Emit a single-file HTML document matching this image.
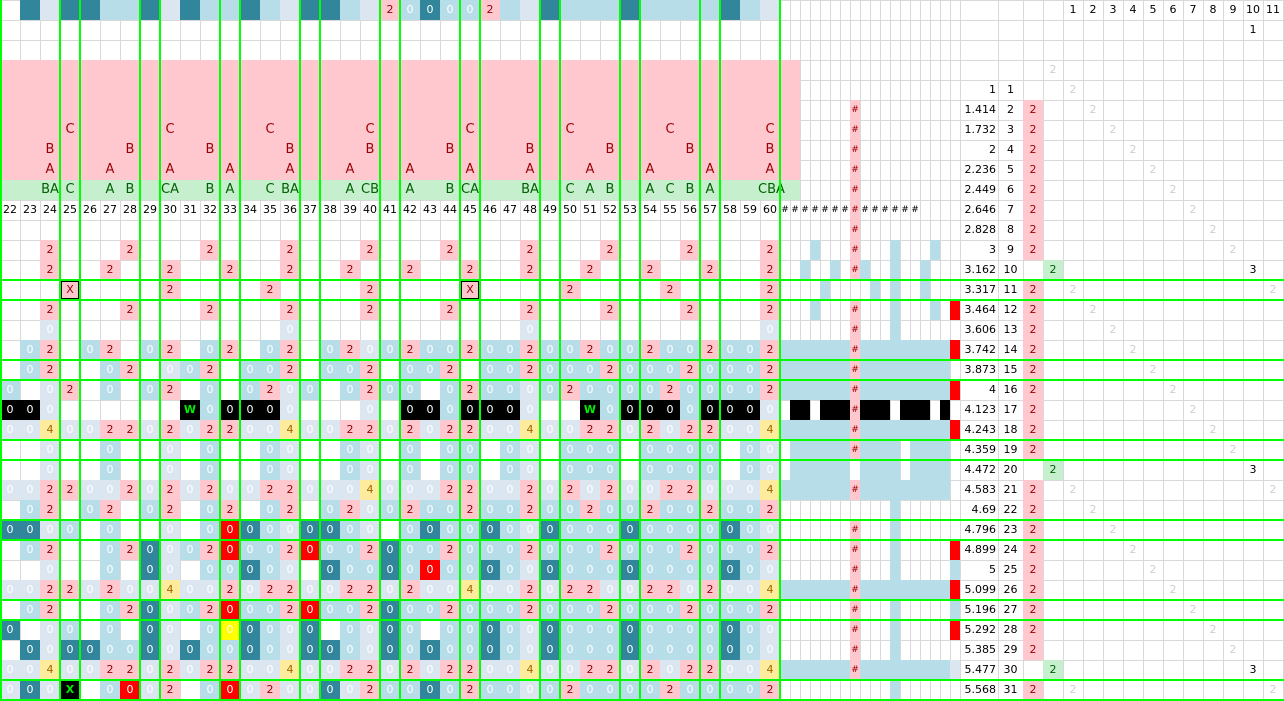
<!DOCTYPE html>
<html><head><meta charset="utf-8"><style>
body{margin:0;width:1284px;height:701px;overflow:hidden;position:relative;background:#fff;font-family:"DejaVu Sans","Liberation Sans",sans-serif;font-size:11px;color:#000}
.grid{position:absolute;left:0;display:grid;grid-template-columns:repeat(39,20px);grid-auto-rows:20px}
.grid i{font-style:normal;text-align:center;line-height:20px;display:block;height:20px}
.p{background:#ffc7ce;color:#9c0006}
.o{background:#b7dee8;color:#fff}
.g{background:#dce6f1;color:#fff}
.t{background:#31869b;color:#fff}
.y{background:#ffeb9c;color:#9c6500}
.k{background:#000;color:#fff}
.W{background:#000;color:#00ee00;font-weight:bold}
.r{background:#f00;color:#fff}
.Y{background:#ff0;color:#fff}
.x{background:#ffc7ce;color:#9c0006;box-shadow:inset 0 0 0 2px #000}
.X{background:#000;color:#0e0;font-weight:bold}
.a{position:absolute;height:20px;line-height:20px;text-align:center;width:20px}
.L{font-size:13px;color:#9c0006}
.Gl{font-size:13px;color:#006100}
.b{position:absolute;height:20px;background:#b7dee8}
.bk{position:absolute;height:20px;background:#000;top:400px}
.h{position:absolute;width:10px;height:20px;line-height:20px;text-align:center;font-size:9px;background:#ffc7ce;color:#9c0006;left:850px}
.n{position:absolute;left:960px;width:36px;text-align:right;height:20px;line-height:20px}
.ix{position:absolute;left:998px;width:25px;text-align:center;height:20px;line-height:20px}
.pk{left:1023px;background:#ffc7ce;color:#9c0006}
.gr{left:1043px;background:#c6efce;color:#006100}
.f{color:#cfcfcf}
.vl{position:absolute;top:0;height:701px;width:2px;background:#0f0}
.hl{position:absolute;left:0;width:1284px;height:2px;background:#0f0}
.vg{position:absolute;top:0;height:701px;width:1px;background:#d9d9d9}
</style></head><body>
<div style="position:absolute;left:0;top:0;width:780px;height:701px;background-image:linear-gradient(90deg,#d9d9d9 1px,transparent 1px),linear-gradient(#d9d9d9 1px,transparent 1px);background-size:20px 20px"></div>
<div style="position:absolute;left:780px;top:0;width:170px;height:701px;background-image:linear-gradient(90deg,#d9d9d9 1px,transparent 1px),linear-gradient(#d9d9d9 1px,transparent 1px);background-size:10px 20px"></div>
<div style="position:absolute;left:950px;top:0;width:334px;height:701px;background-image:linear-gradient(#d9d9d9 1px,transparent 1px);background-size:100% 20px"></div>
<div class=vg style="left:950px"></div><div class=vg style="left:960px"></div><div class=vg style="left:998px"></div><div class=vg style="left:1023px"></div><div class=vg style="left:1043px"></div><div class=vg style="left:1063px"></div><div class=vg style="left:1083px"></div><div class=vg style="left:1103px"></div><div class=vg style="left:1123px"></div><div class=vg style="left:1143px"></div><div class=vg style="left:1163px"></div><div class=vg style="left:1183px"></div><div class=vg style="left:1203px"></div><div class=vg style="left:1223px"></div><div class=vg style="left:1243px"></div><div class=vg style="left:1263px"></div><div class=vg style="left:1283px"></div>

<!-- top row -->
<div class=grid style="top:0"><i></i><i class=t></i><i class=g></i><i class=t></i><i class=t></i><i class=o></i><i class=o></i><i class=t></i><i class=g></i><i class=t></i><i class=o></i><i class=o></i><i class=t></i><i class=o></i><i class=g></i><i class=t></i><i class=t></i><i class=o></i><i class=g></i><i class=p>2</i><i class=o>0</i><i class=t>0</i><i class=o>0</i><i class=o>0</i><i class=p>2</i><i class=o></i><i class=g></i><i class=t></i><i class=o></i><i class=o></i><i class=o></i><i class=t></i><i class=o></i><i class=o></i><i class=o></i><i class=o></i><i class=t></i><i class=o></i><i class=g></i></div>

<!-- pink header -->
<div style="position:absolute;left:0;top:60px;width:800px;height:120px;background:#ffc7ce"></div>
<div style="position:absolute;left:0;top:180px;width:800px;height:20px;background:#c6efce"></div>
<span class="a L" style="top:120px;left:60px">C</span><span class="a L" style="top:120px;left:160px">C</span><span class="a L" style="top:120px;left:260px">C</span><span class="a L" style="top:120px;left:360px">C</span><span class="a L" style="top:120px;left:460px">C</span><span class="a L" style="top:120px;left:560px">C</span><span class="a L" style="top:120px;left:660px">C</span><span class="a L" style="top:120px;left:760px">C</span>
<span class="a L" style="top:140px;left:40px">B</span><span class="a L" style="top:140px;left:120px">B</span><span class="a L" style="top:140px;left:200px">B</span><span class="a L" style="top:140px;left:280px">B</span><span class="a L" style="top:140px;left:360px">B</span><span class="a L" style="top:140px;left:440px">B</span><span class="a L" style="top:140px;left:520px">B</span><span class="a L" style="top:140px;left:600px">B</span><span class="a L" style="top:140px;left:680px">B</span><span class="a L" style="top:140px;left:760px">B</span>
<span class="a L" style="top:160px;left:40px">A</span><span class="a L" style="top:160px;left:100px">A</span><span class="a L" style="top:160px;left:160px">A</span><span class="a L" style="top:160px;left:220px">A</span><span class="a L" style="top:160px;left:280px">A</span><span class="a L" style="top:160px;left:340px">A</span><span class="a L" style="top:160px;left:400px">A</span><span class="a L" style="top:160px;left:460px">A</span><span class="a L" style="top:160px;left:520px">A</span><span class="a L" style="top:160px;left:580px">A</span><span class="a L" style="top:160px;left:640px">A</span><span class="a L" style="top:160px;left:700px">A</span><span class="a L" style="top:160px;left:760px">A</span>
<span class="a Gl" style="top:180px;left:40px">BA</span><span class="a Gl" style="top:180px;left:60px">C</span><span class="a Gl" style="top:180px;left:100px">A</span><span class="a Gl" style="top:180px;left:120px">B</span><span class="a Gl" style="top:180px;left:160px">CA</span><span class="a Gl" style="top:180px;left:200px">B</span><span class="a Gl" style="top:180px;left:220px">A</span><span class="a Gl" style="top:180px;left:260px">C</span><span class="a Gl" style="top:180px;left:280px">BA</span><span class="a Gl" style="top:180px;left:340px">A</span><span class="a Gl" style="top:180px;left:360px">CB</span><span class="a Gl" style="top:180px;left:400px">A</span><span class="a Gl" style="top:180px;left:440px">B</span><span class="a Gl" style="top:180px;left:460px">CA</span><span class="a Gl" style="top:180px;left:520px">BA</span><span class="a Gl" style="top:180px;left:560px">C</span><span class="a Gl" style="top:180px;left:580px">A</span><span class="a Gl" style="top:180px;left:600px">B</span><span class="a Gl" style="top:180px;left:640px">A</span><span class="a Gl" style="top:180px;left:660px">C</span><span class="a Gl" style="top:180px;left:680px">B</span><span class="a Gl" style="top:180px;left:700px">A</span><span class="a Gl" style="top:180px;left:758px">CBA</span>

<!-- labels -->
<div class=grid style="top:200px"><i>22</i><i>23</i><i>24</i><i>25</i><i>26</i><i>27</i><i>28</i><i>29</i><i>30</i><i>31</i><i>32</i><i>33</i><i>34</i><i>35</i><i>36</i><i>37</i><i>38</i><i>39</i><i>40</i><i>41</i><i>42</i><i>43</i><i>44</i><i>45</i><i>46</i><i>47</i><i>48</i><i>49</i><i>50</i><i>51</i><i>52</i><i>53</i><i>54</i><i>55</i><i>56</i><i>57</i><i>58</i><i>59</i><i>60</i></div>
<span class=a style="top:200px;left:780px;width:10px;font-size:9px">#</span><span class=a style="top:200px;left:790px;width:10px;font-size:9px">#</span><span class=a style="top:200px;left:800px;width:10px;font-size:9px">#</span><span class=a style="top:200px;left:810px;width:10px;font-size:9px">#</span><span class=a style="top:200px;left:820px;width:10px;font-size:9px">#</span><span class=a style="top:200px;left:830px;width:10px;font-size:9px">#</span><span class=a style="top:200px;left:840px;width:10px;font-size:9px">#</span><span class=a style="top:200px;left:860px;width:10px;font-size:9px">#</span><span class=a style="top:200px;left:870px;width:10px;font-size:9px">#</span><span class=a style="top:200px;left:880px;width:10px;font-size:9px">#</span><span class=a style="top:200px;left:890px;width:10px;font-size:9px">#</span><span class=a style="top:200px;left:900px;width:10px;font-size:9px">#</span><span class=a style="top:200px;left:910px;width:10px;font-size:9px">#</span>

<!-- data grid -->
<div class=grid style="top:240px">
<i></i><i></i><i class=p>2</i><i></i><i></i><i></i><i class=p>2</i><i></i><i></i><i></i><i class=p>2</i><i></i><i></i><i></i><i class=p>2</i><i></i><i></i><i></i><i class=p>2</i><i></i><i></i><i></i><i class=p>2</i><i></i><i></i><i></i><i class=p>2</i><i></i><i></i><i></i><i class=p>2</i><i></i><i></i><i></i><i class=p>2</i><i></i><i></i><i></i><i class=p>2</i>
<i></i><i></i><i class=p>2</i><i></i><i></i><i class=p>2</i><i></i><i></i><i class=p>2</i><i></i><i></i><i class=p>2</i><i></i><i></i><i class=p>2</i><i></i><i></i><i class=p>2</i><i></i><i></i><i class=p>2</i><i></i><i></i><i class=p>2</i><i></i><i></i><i class=p>2</i><i></i><i></i><i class=p>2</i><i></i><i></i><i class=p>2</i><i></i><i></i><i class=p>2</i><i></i><i></i><i class=p>2</i>
<i></i><i></i><i></i><i class=x>X</i><i></i><i></i><i></i><i></i><i class=p>2</i><i></i><i></i><i></i><i></i><i class=p>2</i><i></i><i></i><i></i><i></i><i class=p>2</i><i></i><i></i><i></i><i></i><i class=x>X</i><i></i><i></i><i></i><i></i><i class=p>2</i><i></i><i></i><i></i><i></i><i class=p>2</i><i></i><i></i><i></i><i></i><i class=p>2</i>
<i></i><i></i><i class=p>2</i><i></i><i></i><i></i><i class=p>2</i><i></i><i></i><i></i><i class=p>2</i><i></i><i></i><i></i><i class=p>2</i><i></i><i></i><i></i><i class=p>2</i><i></i><i></i><i></i><i class=p>2</i><i></i><i></i><i></i><i class=p>2</i><i></i><i></i><i></i><i class=p>2</i><i></i><i></i><i></i><i class=p>2</i><i></i><i></i><i></i><i class=p>2</i>
<i></i><i></i><i class=g>0</i><i></i><i></i><i></i><i></i><i></i><i></i><i></i><i></i><i></i><i></i><i></i><i class=g>0</i><i></i><i></i><i></i><i></i><i></i><i></i><i></i><i></i><i></i><i></i><i></i><i class=g>0</i><i></i><i></i><i></i><i></i><i></i><i></i><i></i><i></i><i></i><i></i><i></i><i class=g>0</i>
<i></i><i class=o>0</i><i class=p>2</i><i></i><i class=o>0</i><i class=p>2</i><i></i><i class=o>0</i><i class=p>2</i><i></i><i class=o>0</i><i class=p>2</i><i></i><i class=o>0</i><i class=p>2</i><i></i><i class=o>0</i><i class=p>2</i><i class=g>0</i><i class=o>0</i><i class=p>2</i><i class=o>0</i><i class=o>0</i><i class=p>2</i><i class=o>0</i><i class=o>0</i><i class=p>2</i><i class=o>0</i><i class=o>0</i><i class=p>2</i><i class=o>0</i><i class=o>0</i><i class=p>2</i><i class=o>0</i><i class=o>0</i><i class=p>2</i><i class=o>0</i><i class=o>0</i><i class=p>2</i>
<i></i><i class=o>0</i><i class=p>2</i><i></i><i></i><i class=o>0</i><i class=p>2</i><i></i><i class=g>0</i><i class=o>0</i><i class=p>2</i><i></i><i class=o>0</i><i class=o>0</i><i class=p>2</i><i></i><i class=o>0</i><i class=o>0</i><i class=p>2</i><i></i><i class=o>0</i><i class=o>0</i><i class=p>2</i><i></i><i class=o>0</i><i class=o>0</i><i class=p>2</i><i class=o>0</i><i class=o>0</i><i class=o>0</i><i class=p>2</i><i class=o>0</i><i class=o>0</i><i class=o>0</i><i class=p>2</i><i class=o>0</i><i class=o>0</i><i class=o>0</i><i class=p>2</i>
<i class=o>0</i><i></i><i class=g>0</i><i class=p>2</i><i></i><i class=o>0</i><i></i><i class=o>0</i><i class=p>2</i><i></i><i class=o>0</i><i></i><i class=o>0</i><i class=p>2</i><i class=g>0</i><i class=o>0</i><i></i><i class=o>0</i><i class=p>2</i><i class=o>0</i><i class=o>0</i><i></i><i class=o>0</i><i class=p>2</i><i class=o>0</i><i class=o>0</i><i class=g>0</i><i class=o>0</i><i class=p>2</i><i class=o>0</i><i class=o>0</i><i class=o>0</i><i class=o>0</i><i class=p>2</i><i class=o>0</i><i class=o>0</i><i class=o>0</i><i class=o>0</i><i class=p>2</i>
<i class=k>0</i><i class=k>0</i><i class=g>0</i><i></i><i></i><i></i><i></i><i></i><i></i><i class=W>W</i><i class=o>0</i><i class=k>0</i><i class=k>0</i><i class=k>0</i><i class=g>0</i><i></i><i></i><i></i><i class=g>0</i><i></i><i class=k>0</i><i class=k>0</i><i class=o>0</i><i class=k>0</i><i class=k>0</i><i class=k>0</i><i class=g>0</i><i></i><i></i><i class=W>W</i><i class=o>0</i><i class=k>0</i><i class=k>0</i><i class=k>0</i><i class=o>0</i><i class=k>0</i><i class=k>0</i><i class=k>0</i><i class=g>0</i>
<i class=g>0</i><i class=g>0</i><i class=y>4</i><i class=g>0</i><i class=g>0</i><i class=p>2</i><i class=p>2</i><i class=g>0</i><i class=p>2</i><i class=g>0</i><i class=p>2</i><i class=p>2</i><i class=g>0</i><i class=g>0</i><i class=y>4</i><i class=g>0</i><i class=g>0</i><i class=p>2</i><i class=p>2</i><i class=g>0</i><i class=p>2</i><i class=g>0</i><i class=p>2</i><i class=p>2</i><i class=g>0</i><i class=g>0</i><i class=y>4</i><i class=g>0</i><i class=g>0</i><i class=p>2</i><i class=p>2</i><i class=g>0</i><i class=p>2</i><i class=g>0</i><i class=p>2</i><i class=p>2</i><i class=g>0</i><i class=g>0</i><i class=y>4</i>
<i></i><i></i><i class=g>0</i><i></i><i></i><i class=o>0</i><i></i><i></i><i class=g>0</i><i></i><i class=o>0</i><i></i><i></i><i class=o>0</i><i class=g>0</i><i></i><i></i><i class=o>0</i><i class=g>0</i><i></i><i class=o>0</i><i></i><i class=o>0</i><i class=o>0</i><i></i><i class=o>0</i><i class=g>0</i><i></i><i class=o>0</i><i class=o>0</i><i class=o>0</i><i></i><i class=o>0</i><i class=o>0</i><i class=o>0</i><i class=o>0</i><i></i><i class=o>0</i><i class=g>0</i>
<i></i><i></i><i class=g>0</i><i></i><i></i><i class=o>0</i><i></i><i></i><i class=g>0</i><i></i><i class=o>0</i><i></i><i></i><i class=o>0</i><i class=g>0</i><i></i><i></i><i class=o>0</i><i class=g>0</i><i></i><i class=o>0</i><i></i><i class=o>0</i><i class=o>0</i><i></i><i class=o>0</i><i class=g>0</i><i></i><i class=o>0</i><i class=o>0</i><i class=o>0</i><i></i><i class=o>0</i><i class=o>0</i><i class=o>0</i><i class=o>0</i><i></i><i class=o>0</i><i class=g>0</i>
<i class=g>0</i><i class=g>0</i><i class=p>2</i><i class=p>2</i><i class=g>0</i><i class=g>0</i><i class=p>2</i><i class=g>0</i><i class=p>2</i><i class=g>0</i><i class=p>2</i><i class=g>0</i><i class=g>0</i><i class=p>2</i><i class=p>2</i><i class=g>0</i><i class=g>0</i><i class=g>0</i><i class=y>4</i><i class=g>0</i><i class=g>0</i><i class=g>0</i><i class=p>2</i><i class=p>2</i><i class=g>0</i><i class=g>0</i><i class=p>2</i><i class=g>0</i><i class=p>2</i><i class=g>0</i><i class=p>2</i><i class=g>0</i><i class=g>0</i><i class=p>2</i><i class=p>2</i><i class=g>0</i><i class=g>0</i><i class=g>0</i><i class=y>4</i>
<i></i><i class=o>0</i><i class=p>2</i><i></i><i class=o>0</i><i class=p>2</i><i></i><i class=o>0</i><i class=p>2</i><i></i><i class=o>0</i><i class=p>2</i><i></i><i class=o>0</i><i class=p>2</i><i></i><i class=o>0</i><i class=p>2</i><i class=g>0</i><i class=o>0</i><i class=p>2</i><i class=o>0</i><i class=o>0</i><i class=p>2</i><i class=o>0</i><i class=o>0</i><i class=p>2</i><i class=o>0</i><i class=o>0</i><i class=p>2</i><i class=o>0</i><i class=o>0</i><i class=p>2</i><i class=o>0</i><i class=o>0</i><i class=p>2</i><i class=o>0</i><i class=o>0</i><i class=p>2</i>
<i class=t>0</i><i class=t>0</i><i class=g>0</i><i class=o>0</i><i></i><i class=o>0</i><i></i><i></i><i class=g>0</i><i></i><i class=o>0</i><i class=r>0</i><i class=t>0</i><i class=o>0</i><i class=g>0</i><i class=t>0</i><i class=t>0</i><i class=o>0</i><i class=g>0</i><i></i><i class=o>0</i><i class=t>0</i><i class=o>0</i><i class=o>0</i><i class=t>0</i><i class=o>0</i><i class=g>0</i><i class=t>0</i><i class=o>0</i><i class=o>0</i><i class=o>0</i><i class=t>0</i><i class=o>0</i><i class=o>0</i><i class=o>0</i><i class=o>0</i><i class=t>0</i><i class=o>0</i><i class=g>0</i>
<i></i><i class=o>0</i><i class=p>2</i><i></i><i></i><i class=o>0</i><i class=p>2</i><i class=t>0</i><i class=g>0</i><i class=o>0</i><i class=p>2</i><i class=r>0</i><i class=o>0</i><i class=o>0</i><i class=p>2</i><i class=r>0</i><i class=o>0</i><i class=o>0</i><i class=p>2</i><i class=t>0</i><i class=o>0</i><i class=o>0</i><i class=p>2</i><i class=o>0</i><i class=o>0</i><i class=o>0</i><i class=p>2</i><i class=o>0</i><i class=o>0</i><i class=o>0</i><i class=p>2</i><i class=o>0</i><i class=o>0</i><i class=o>0</i><i class=p>2</i><i class=o>0</i><i class=o>0</i><i class=o>0</i><i class=p>2</i>
<i></i><i></i><i class=g>0</i><i></i><i></i><i class=o>0</i><i></i><i class=t>0</i><i class=g>0</i><i></i><i class=o>0</i><i class=o>0</i><i class=t>0</i><i class=o>0</i><i class=g>0</i><i></i><i class=t>0</i><i class=o>0</i><i class=o>0</i><i class=t>0</i><i class=o>0</i><i class=r>0</i><i class=o>0</i><i class=o>0</i><i class=t>0</i><i class=o>0</i><i class=g>0</i><i class=t>0</i><i class=o>0</i><i class=o>0</i><i class=o>0</i><i class=t>0</i><i class=o>0</i><i class=o>0</i><i class=o>0</i><i class=o>0</i><i class=t>0</i><i class=o>0</i><i class=g>0</i>
<i class=g>0</i><i class=g>0</i><i class=p>2</i><i class=p>2</i><i class=g>0</i><i class=p>2</i><i class=g>0</i><i class=g>0</i><i class=y>4</i><i class=g>0</i><i class=g>0</i><i class=p>2</i><i class=g>0</i><i class=p>2</i><i class=p>2</i><i class=g>0</i><i class=g>0</i><i class=p>2</i><i class=p>2</i><i class=g>0</i><i class=p>2</i><i class=g>0</i><i class=g>0</i><i class=y>4</i><i class=g>0</i><i class=g>0</i><i class=p>2</i><i class=g>0</i><i class=p>2</i><i class=p>2</i><i class=g>0</i><i class=g>0</i><i class=p>2</i><i class=p>2</i><i class=g>0</i><i class=p>2</i><i class=g>0</i><i class=g>0</i><i class=y>4</i>
<i></i><i class=o>0</i><i class=p>2</i><i></i><i></i><i class=o>0</i><i class=p>2</i><i class=t>0</i><i class=g>0</i><i class=o>0</i><i class=p>2</i><i class=r>0</i><i class=o>0</i><i class=o>0</i><i class=p>2</i><i class=r>0</i><i class=o>0</i><i class=o>0</i><i class=p>2</i><i class=t>0</i><i class=o>0</i><i class=o>0</i><i class=p>2</i><i class=o>0</i><i class=o>0</i><i class=o>0</i><i class=p>2</i><i class=o>0</i><i class=o>0</i><i class=o>0</i><i class=p>2</i><i class=o>0</i><i class=o>0</i><i class=o>0</i><i class=p>2</i><i class=o>0</i><i class=o>0</i><i class=o>0</i><i class=p>2</i>
<i class=t>0</i><i></i><i class=g>0</i><i class=o>0</i><i></i><i class=o>0</i><i></i><i class=t>0</i><i class=g>0</i><i></i><i class=o>0</i><i class=Y>0</i><i class=t>0</i><i class=o>0</i><i class=g>0</i><i class=t>0</i><i></i><i class=o>0</i><i class=g>0</i><i class=t>0</i><i class=o>0</i><i></i><i class=o>0</i><i class=o>0</i><i class=t>0</i><i class=o>0</i><i class=g>0</i><i class=t>0</i><i class=o>0</i><i class=o>0</i><i class=o>0</i><i class=t>0</i><i class=o>0</i><i class=o>0</i><i class=o>0</i><i class=o>0</i><i class=t>0</i><i class=o>0</i><i class=g>0</i>
<i></i><i class=t>0</i><i class=g>0</i><i class=t>0</i><i class=t>0</i><i class=o>0</i><i class=o>0</i><i class=t>0</i><i class=g>0</i><i class=t>0</i><i class=o>0</i><i class=o>0</i><i class=t>0</i><i class=o>0</i><i class=g>0</i><i class=t>0</i><i class=t>0</i><i class=o>0</i><i class=g>0</i><i class=t>0</i><i class=o>0</i><i class=t>0</i><i class=o>0</i><i class=o>0</i><i class=t>0</i><i class=o>0</i><i class=g>0</i><i class=t>0</i><i class=o>0</i><i class=o>0</i><i class=o>0</i><i class=t>0</i><i class=o>0</i><i class=o>0</i><i class=o>0</i><i class=o>0</i><i class=t>0</i><i class=o>0</i><i class=g>0</i>
<i class=g>0</i><i class=g>0</i><i class=y>4</i><i class=g>0</i><i class=g>0</i><i class=p>2</i><i class=p>2</i><i class=g>0</i><i class=p>2</i><i class=g>0</i><i class=p>2</i><i class=p>2</i><i class=g>0</i><i class=g>0</i><i class=y>4</i><i class=g>0</i><i class=g>0</i><i class=p>2</i><i class=p>2</i><i class=g>0</i><i class=p>2</i><i class=g>0</i><i class=p>2</i><i class=p>2</i><i class=g>0</i><i class=g>0</i><i class=y>4</i><i class=g>0</i><i class=g>0</i><i class=p>2</i><i class=p>2</i><i class=g>0</i><i class=p>2</i><i class=g>0</i><i class=p>2</i><i class=p>2</i><i class=g>0</i><i class=g>0</i><i class=y>4</i>
<i class=g>0</i><i class=t>0</i><i class=g>0</i><i class=X>X</i><i></i><i class=o>0</i><i class=r>0</i><i class=g>0</i><i class=p>2</i><i></i><i class=o>0</i><i class=r>0</i><i class=g>0</i><i class=p>2</i><i class=g>0</i><i class=g>0</i><i class=t>0</i><i class=g>0</i><i class=p>2</i><i class=o>0</i><i class=o>0</i><i class=t>0</i><i class=o>0</i><i class=p>2</i><i class=o>0</i><i class=o>0</i><i class=g>0</i><i class=o>0</i><i class=p>2</i><i class=o>0</i><i class=o>0</i><i class=o>0</i><i class=o>0</i><i class=p>2</i><i class=o>0</i><i class=o>0</i><i class=o>0</i><i class=o>0</i><i class=p>2</i>
</div>

<!-- narrow region blocks -->
<div class=b style="top:240px;left:810px;width:10px"></div><div class=b style="top:240px;left:890px;width:10px"></div><div class=b style="top:240px;left:930px;width:10px"></div>
<div class=b style="top:260px;left:800px;width:10px"></div><div class=b style="top:260px;left:830px;width:10px"></div><div class=b style="top:260px;left:860px;width:10px"></div><div class=b style="top:260px;left:890px;width:10px"></div><div class=b style="top:260px;left:920px;width:10px"></div>
<div class=b style="top:280px;left:820px;width:10px"></div><div class=b style="top:280px;left:870px;width:10px"></div><div class=b style="top:280px;left:890px;width:10px"></div><div class=b style="top:280px;left:920px;width:10px"></div>
<div class=b style="top:300px;left:810px;width:10px"></div><div class=b style="top:300px;left:890px;width:10px"></div><div class=b style="top:300px;left:930px;width:10px"></div>
<div class=b style="top:320px;left:890px;width:10px"></div>
<div class=b style="top:340px;left:780px;width:170px;height:60px"></div>
<div class=bk style="left:790px;width:20px"></div><div class=bk style="left:820px;width:30px"></div><div class=bk style="left:860px;width:30px"></div><div class=bk style="left:900px;width:30px"></div><div class=bk style="left:940px;width:10px"></div>
<div class=b style="top:420px;left:780px;width:170px"></div>
<div class=b style="top:440px;left:790px;width:110px;height:40px"></div><div class=b style="top:440px;left:910px;width:40px;height:40px"></div>
<div class=b style="top:480px;left:780px;width:170px"></div>
<div class=b style="top:500px;left:890px;width:10px;height:200px"></div>
<div class=b style="top:580px;left:780px;width:170px"></div>
<div class=b style="top:660px;left:780px;width:170px"></div>
<div style="position:absolute;top:460px;left:850px;width:10px;height:20px;background:#fff"></div>

<!-- red column -->
<div class=b style="top:300px;left:950px;width:10px;background:#f00"></div>
<div class=b style="top:340px;left:950px;width:10px;background:#f00"></div>
<div class=b style="top:380px;left:950px;width:10px;background:#f00"></div>
<div class=b style="top:420px;left:950px;width:10px;background:#f00"></div>
<div class=b style="top:540px;left:950px;width:10px;background:#f00"></div>
<div class=b style="top:560px;left:950px;width:10px"></div>
<div class=b style="top:580px;left:950px;width:10px;background:#f00"></div>
<div class=b style="top:600px;left:950px;width:10px"></div>
<div class=b style="top:620px;left:950px;width:10px;background:#f00"></div>
<div class=b style="top:660px;left:950px;width:10px;background:#dce6f1"></div>

<!-- hash column -->
<div class=h style="top:100px">#</div><div class=h style="top:120px">#</div><div class=h style="top:140px">#</div><div class=h style="top:160px">#</div><div class=h style="top:180px">#</div><div class=h style="top:200px">#</div><div class=h style="top:220px">#</div><div class=h style="top:240px">#</div><div class=h style="top:260px">#</div><div class=h style="top:300px">#</div><div class=h style="top:320px">#</div><div class=h style="top:340px">#</div><div class=h style="top:360px">#</div><div class=h style="top:380px">#</div><div class=h style="top:400px">#</div><div class=h style="top:420px">#</div><div class=h style="top:440px">#</div><div class=h style="top:480px">#</div><div class=h style="top:520px">#</div><div class=h style="top:540px">#</div><div class=h style="top:560px">#</div><div class=h style="top:580px">#</div><div class=h style="top:600px">#</div><div class=h style="top:620px">#</div><div class=h style="top:640px">#</div><div class=h style="top:660px">#</div>

<!-- right header -->
<span class=a style="top:0;left:1063px">1</span><span class=a style="top:0;left:1083px">2</span><span class=a style="top:0;left:1103px">3</span><span class=a style="top:0;left:1123px">4</span><span class=a style="top:0;left:1143px">5</span><span class=a style="top:0;left:1163px">6</span><span class=a style="top:0;left:1183px">7</span><span class=a style="top:0;left:1203px">8</span><span class=a style="top:0;left:1223px">9</span><span class=a style="top:0;left:1243px">10</span><span class=a style="top:0;left:1263px">11</span>
<span class=a style="top:20px;left:1243px">1</span>
<span class="a f" style="top:60px;left:1043px">2</span>

<!-- right rows -->
<span class=n style="top:80px">1</span><span class=ix style="top:80px">1</span><span class="a f" style="top:80px;left:1063px">2</span>
<span class=n style="top:100px">1.414</span><span class=ix style="top:100px">2</span><span class="a pk" style="top:100px">2</span><span class="a f" style="top:100px;left:1083px">2</span>
<span class=n style="top:120px">1.732</span><span class=ix style="top:120px">3</span><span class="a pk" style="top:120px">2</span><span class="a f" style="top:120px;left:1103px">2</span>
<span class=n style="top:140px">2</span><span class=ix style="top:140px">4</span><span class="a pk" style="top:140px">2</span><span class="a f" style="top:140px;left:1123px">2</span>
<span class=n style="top:160px">2.236</span><span class=ix style="top:160px">5</span><span class="a pk" style="top:160px">2</span><span class="a f" style="top:160px;left:1143px">2</span>
<span class=n style="top:180px">2.449</span><span class=ix style="top:180px">6</span><span class="a pk" style="top:180px">2</span><span class="a f" style="top:180px;left:1163px">2</span>
<span class=n style="top:200px">2.646</span><span class=ix style="top:200px">7</span><span class="a pk" style="top:200px">2</span><span class="a f" style="top:200px;left:1183px">2</span>
<span class=n style="top:220px">2.828</span><span class=ix style="top:220px">8</span><span class="a pk" style="top:220px">2</span><span class="a f" style="top:220px;left:1203px">2</span>
<span class=n style="top:240px">3</span><span class=ix style="top:240px">9</span><span class="a pk" style="top:240px">2</span><span class="a f" style="top:240px;left:1223px">2</span>
<span class=n style="top:260px">3.162</span><span class=ix style="top:260px">10</span><span class="a gr" style="top:260px">2</span><span class=a style="top:260px;left:1243px">3</span>
<span class=n style="top:280px">3.317</span><span class=ix style="top:280px">11</span><span class="a pk" style="top:280px">2</span><span class="a f" style="top:280px;left:1063px">2</span><span class="a f" style="top:280px;left:1263px">2</span>
<span class=n style="top:300px">3.464</span><span class=ix style="top:300px">12</span><span class="a pk" style="top:300px">2</span><span class="a f" style="top:300px;left:1083px">2</span>
<span class=n style="top:320px">3.606</span><span class=ix style="top:320px">13</span><span class="a pk" style="top:320px">2</span><span class="a f" style="top:320px;left:1103px">2</span>
<span class=n style="top:340px">3.742</span><span class=ix style="top:340px">14</span><span class="a pk" style="top:340px">2</span><span class="a f" style="top:340px;left:1123px">2</span>
<span class=n style="top:360px">3.873</span><span class=ix style="top:360px">15</span><span class="a pk" style="top:360px">2</span><span class="a f" style="top:360px;left:1143px">2</span>
<span class=n style="top:380px">4</span><span class=ix style="top:380px">16</span><span class="a pk" style="top:380px">2</span><span class="a f" style="top:380px;left:1163px">2</span>
<span class=n style="top:400px">4.123</span><span class=ix style="top:400px">17</span><span class="a pk" style="top:400px">2</span><span class="a f" style="top:400px;left:1183px">2</span>
<span class=n style="top:420px">4.243</span><span class=ix style="top:420px">18</span><span class="a pk" style="top:420px">2</span><span class="a f" style="top:420px;left:1203px">2</span>
<span class=n style="top:440px">4.359</span><span class=ix style="top:440px">19</span><span class="a pk" style="top:440px">2</span><span class="a f" style="top:440px;left:1223px">2</span>
<span class=n style="top:460px">4.472</span><span class=ix style="top:460px">20</span><span class="a gr" style="top:460px">2</span><span class=a style="top:460px;left:1243px">3</span>
<span class=n style="top:480px">4.583</span><span class=ix style="top:480px">21</span><span class="a pk" style="top:480px">2</span><span class="a f" style="top:480px;left:1063px">2</span><span class="a f" style="top:480px;left:1263px">2</span>
<span class=n style="top:500px">4.69</span><span class=ix style="top:500px">22</span><span class="a pk" style="top:500px">2</span><span class="a f" style="top:500px;left:1083px">2</span>
<span class=n style="top:520px">4.796</span><span class=ix style="top:520px">23</span><span class="a pk" style="top:520px">2</span><span class="a f" style="top:520px;left:1103px">2</span>
<span class=n style="top:540px">4.899</span><span class=ix style="top:540px">24</span><span class="a pk" style="top:540px">2</span><span class="a f" style="top:540px;left:1123px">2</span>
<span class=n style="top:560px">5</span><span class=ix style="top:560px">25</span><span class="a pk" style="top:560px">2</span><span class="a f" style="top:560px;left:1143px">2</span>
<span class=n style="top:580px">5.099</span><span class=ix style="top:580px">26</span><span class="a pk" style="top:580px">2</span><span class="a f" style="top:580px;left:1163px">2</span>
<span class=n style="top:600px">5.196</span><span class=ix style="top:600px">27</span><span class="a pk" style="top:600px">2</span><span class="a f" style="top:600px;left:1183px">2</span>
<span class=n style="top:620px">5.292</span><span class=ix style="top:620px">28</span><span class="a pk" style="top:620px">2</span><span class="a f" style="top:620px;left:1203px">2</span>
<span class=n style="top:640px">5.385</span><span class=ix style="top:640px">29</span><span class="a pk" style="top:640px">2</span><span class="a f" style="top:640px;left:1223px">2</span>
<span class=n style="top:660px">5.477</span><span class=ix style="top:660px">30</span><span class="a gr" style="top:660px">2</span><span class=a style="top:660px;left:1243px">3</span>
<span class=n style="top:680px">5.568</span><span class=ix style="top:680px">31</span><span class="a pk" style="top:680px">2</span><span class="a f" style="top:680px;left:1063px">2</span><span class="a f" style="top:680px;left:1263px">2</span>

<!-- green lines -->
<div class=vl style="left:0"></div><div class=vl style="left:59px"></div><div class=vl style="left:79px"></div><div class=vl style="left:139px"></div><div class=vl style="left:159px"></div><div class=vl style="left:219px"></div><div class=vl style="left:239px"></div><div class=vl style="left:299px"></div><div class=vl style="left:319px"></div><div class=vl style="left:379px"></div><div class=vl style="left:399px"></div><div class=vl style="left:459px"></div><div class=vl style="left:479px"></div><div class=vl style="left:539px"></div><div class=vl style="left:559px"></div><div class=vl style="left:619px"></div><div class=vl style="left:639px"></div><div class=vl style="left:699px"></div><div class=vl style="left:719px"></div><div class=vl style="left:779px"></div>
<div class=hl style="top:279px"></div><div class=hl style="top:299px"></div><div class=hl style="top:359px"></div><div class=hl style="top:379px"></div><div class=hl style="top:439px"></div><div class=hl style="top:459px"></div><div class=hl style="top:519px"></div><div class=hl style="top:539px"></div><div class=hl style="top:599px"></div><div class=hl style="top:619px"></div><div class=hl style="top:679px"></div><div class=hl style="top:699px"></div>
</body></html>
